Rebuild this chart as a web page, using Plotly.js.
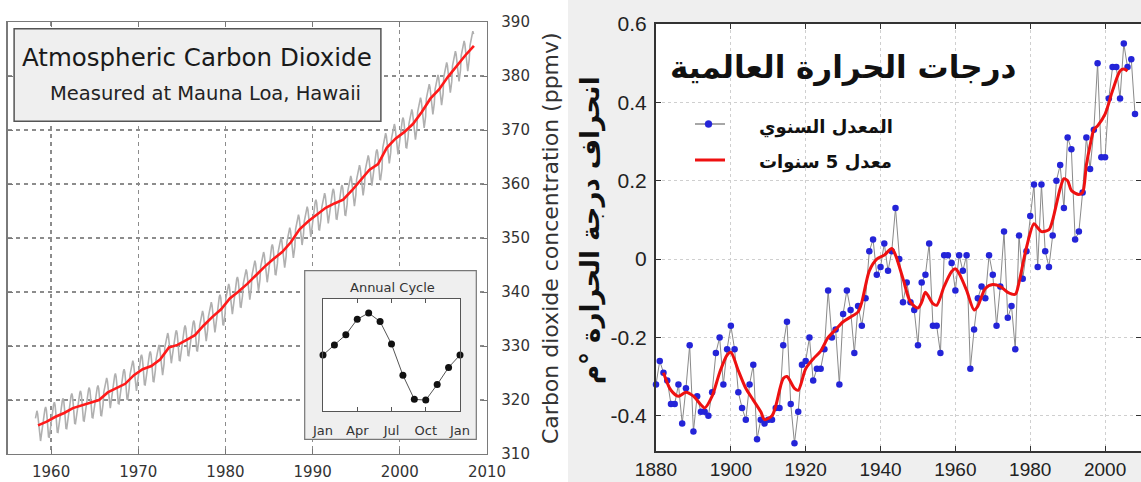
<!DOCTYPE html>
<html>
<head>
<meta charset="utf-8">
<script src="https://cdn.plot.ly/plotly-3.0.1.min.js"></script>
<style>
html,body{margin:0;padding:0;background:#ffffff;}
#chart{width:1141px;height:482px;}
</style>
</head>
<body>
<div id="chart"></div>
<script>
// ---------------- Left chart: Mauna Loa CO2 ----------------
const co2Years = [1958,1959,1960,1961,1962,1963,1964,1965,1966,1967,
                  1968,1969,1970,1971,1972,1973,1974,1975,1976,1977,
                  1978,1979,1980,1981,1982,1983,1984,1985,1986,1987,
                  1988,1989,1990,1991,1992,1993,1994,1995,1996,1997,
                  1998,1999,2000,2001,2002,2003,2004,2005,2006,2007,2008];
const co2Annual = [315.3,316.0,316.9,317.6,318.5,319.0,319.6,320.0,321.4,322.2,
                   323.0,324.6,325.7,326.3,327.5,329.7,330.2,331.1,332.0,333.8,
                   335.4,336.8,338.8,340.1,341.5,343.1,344.7,346.1,347.4,349.2,
                   351.6,353.1,354.4,355.6,356.4,357.1,358.8,360.8,362.6,363.7,
                   366.7,368.4,369.6,371.1,373.3,375.8,377.5,379.8,381.9,383.8,385.6];
const co2TickYears = [1960,1970,1980,1990,2000,2010];
const co2TickValues = [310,320,330,340,350,360,370,380,390];

// inset: annual cycle (Jan ... Dec, Jan)
const cycleMonths = [0,1,2,3,4,5,6,7,8,9,10,11,12];
const cycleValues = [0.0,0.65,1.3,2.3,2.7,2.15,0.7,-1.3,-2.85,-2.9,-1.9,-0.8,0.0];
const cycleTickVals = [0,3,6,9,12];
const cycleTickText = ['Jan','Apr','Jul','Oct','Jan'];

// ---------------- Right chart: global temperature ----------------
const tempStartYear = 1880;
const tempAnnual = [
  -0.32,-0.26,-0.29,-0.31,-0.37,-0.37,-0.32,-0.42,-0.33,-0.22,   // 1880s
  -0.44,-0.35,-0.39,-0.39,-0.40,-0.34,-0.24,-0.20,-0.32,-0.23,   // 1890s
  -0.17,-0.23,-0.34,-0.38,-0.41,-0.32,-0.27,-0.46,-0.41,-0.42,   // 1900s
  -0.41,-0.41,-0.38,-0.38,-0.22,-0.16,-0.37,-0.47,-0.39,-0.27,   // 1910s
  -0.26,-0.20,-0.31,-0.28,-0.28,-0.23,-0.08,-0.20,-0.18,-0.32,   // 1920s
  -0.14,-0.08,-0.13,-0.24,-0.12,-0.17,-0.10, 0.02, 0.05,-0.04,   // 1930s
  -0.02, 0.04,-0.03, 0.02, 0.13, 0.00,-0.11,-0.06,-0.11,-0.13,   // 1940s
  -0.22,-0.06,-0.04, 0.04,-0.17,-0.17,-0.24, 0.01, 0.01,-0.01,   // 1950s
  -0.08, 0.01,-0.03, 0.01,-0.28,-0.18,-0.10,-0.07,-0.10, 0.01,   // 1960s
  -0.04,-0.17,-0.07, 0.07,-0.15,-0.12,-0.23, 0.06,-0.05, 0.02,   // 1970s
   0.11, 0.19,-0.02, 0.19, 0.02,-0.02, 0.06, 0.20, 0.24, 0.13,   // 1980s
   0.31, 0.28, 0.05, 0.07, 0.17, 0.31, 0.23, 0.33, 0.50, 0.26,   // 1990s
   0.26, 0.41, 0.49, 0.49, 0.41, 0.55, 0.49, 0.51, 0.37          // 2000s
];
const tempYears = tempAnnual.map((v, i) => tempStartYear + i);

const smoothYears = [1882,1884,1886,1888,1890,1892,1893,1895,1897,1899,1900,1902,1904,1906,1908,1909,
                     1911,1912,1914,1915,1917,1918,1920,1922,1924,1926,1928,1930,1932,1934,1935,1937,
                     1939,1941,1943,1944,1946,1948,1950,1951,1952,1954,1955,1957,1959,1960,1961,1963,
                     1965,1966,1968,1970,1972,1974,1976,1977,1979,1981,1982,1983,1985,1986,1988,1989,
                     1990,1991,1993,1994,1995,1996,1997,1998,2000,2002,2004,2005,2006];
const smoothValues = [-0.29,-0.335,-0.35,-0.34,-0.35,-0.372,-0.38,-0.35,-0.29,-0.245,-0.238,-0.285,-0.33,-0.36,-0.39,-0.41,
                      -0.40,-0.375,-0.305,-0.30,-0.33,-0.335,-0.28,-0.255,-0.235,-0.20,-0.18,-0.16,-0.148,-0.135,-0.11,-0.03,
                      0.0,0.01,0.027,0.01,-0.05,-0.11,-0.125,-0.11,-0.085,-0.114,-0.118,-0.07,-0.032,-0.025,-0.037,-0.08,
                      -0.13,-0.12,-0.075,-0.065,-0.07,-0.085,-0.09,-0.06,0.03,0.09,0.08,0.07,0.075,0.10,0.18,0.205,
                      0.20,0.175,0.165,0.17,0.24,0.29,0.33,0.34,0.37,0.43,0.48,0.485,0.48];
const tempTickYears = [1880,1900,1920,1940,1960,1980,2000];
const tempTickVals = [-0.4,-0.2,0,0.2,0.4,0.6];
const tempTickText = ['-0.4','-0.2','0','0.2','0.4','0.6'];

// ---------- monthly CO2 (annual mean + seasonal cycle of the inset) ----------
const grayX = [], grayY = [];
co2Years.forEach((yr, i) => {
  for (let m = 0; m < 12; m++) {
    if (yr === co2Years[0] && m < 2) continue;
    if (yr === co2Years[co2Years.length - 1] && m > 5) continue;
    grayX.push(yr + (m + 0.5) / 12);
    grayY.push(co2Annual[i] + cycleValues[m]);
  }
});

const W = 1141, H = 482;
const px = v => v / W;
const py = v => 1 - v / H;

const traces = [
  {x: grayX, y: grayY, xaxis: 'x', yaxis: 'y', mode: 'lines',
   line: {color: '#b0b0b0', width: 1.6}, hoverinfo: 'skip'},
  {x: co2Years.map(y => y + 0.5), y: co2Annual, xaxis: 'x', yaxis: 'y', mode: 'lines',
   line: {color: '#ff1a1a', width: 2.6}},
  {x: [], y: [], xaxis: 'x2', yaxis: 'y2'},
  {x: cycleMonths, y: cycleValues, xaxis: 'x3', yaxis: 'y3', mode: 'lines+markers',
   line: {color: '#555555', width: 1}, marker: {color: '#111111', size: 7}, cliponaxis: false},
  {x: [], y: [], xaxis: 'x4', yaxis: 'y4'},
  {x: [], y: [], xaxis: 'x5', yaxis: 'y5'},
  {x: tempYears, y: tempAnnual, xaxis: 'x6', yaxis: 'y6', mode: 'lines+markers',
   line: {color: '#8a8a8a', width: 1}, marker: {color: '#2424d8', size: 6.5}, cliponaxis: false},
  {x: smoothYears, y: smoothValues, xaxis: 'x6', yaxis: 'y6', mode: 'lines',
   line: {color: '#ee1111', width: 3, shape: 'spline', smoothing: 0.8}}
];

const dummy = (dom, anchor) => ({domain: dom, range: [0, 1], visible: false, anchor: anchor, fixedrange: true});

const leftFont = {family: 'DejaVu Sans', size: 15, color: '#333333'};
const rightFont = {family: 'Liberation Sans, Arial', size: 19, color: '#222222'};

const layout = {
  width: W, height: H,
  margin: {l: 0, r: 0, t: 0, b: 0, pad: 0},
  paper_bgcolor: '#ffffff', plot_bgcolor: '#ffffff',
  showlegend: false,
  xaxis: {domain: [px(7.5), px(487)], range: [1955, 2010], anchor: 'y',
          tickvals: co2TickYears, ticks: 'inside', ticklen: 5, tickcolor: '#777',
          showline: true, linecolor: '#7a7a7a', linewidth: 1.3, mirror: 'ticks',
          showgrid: true, gridcolor: '#8c8c8c', griddash: '4px,4px', gridwidth: 1.2,
          zeroline: false, tickfont: leftFont, ticklabelstandoff: 4, fixedrange: true},
  yaxis: {domain: [py(454), py(22)], range: [310, 390], anchor: 'x', side: 'right',
          tickvals: co2TickValues, ticks: 'inside', ticklen: 5, tickcolor: '#777',
          showline: true, linecolor: '#7a7a7a', linewidth: 1.3, mirror: 'ticks',
          showgrid: true, gridcolor: '#8c8c8c', griddash: '4px,4px', gridwidth: 1.2,
          zeroline: false, tickfont: leftFont, ticklabelstandoff: 10, fixedrange: true},
  xaxis2: dummy([px(304), px(477)], 'y2'),
  yaxis2: dummy([py(440), py(270)], 'x2'),
  xaxis3: {domain: [px(323), px(460)], range: [0, 12], anchor: 'y3',
           tickvals: cycleTickVals, ticktext: cycleTickText, ticks: 'inside', ticklen: 4,
           tickcolor: '#555', showline: true, linecolor: '#555', linewidth: 1, mirror: 'ticks',
           showgrid: false, zeroline: false,
           tickfont: {family: 'DejaVu Sans', size: 13, color: '#333'}, ticklabelstandoff: 7, fixedrange: true},
  yaxis3: {domain: [py(411), py(299)], range: [-3.6, 3.6], anchor: 'x3',
           showticklabels: false, ticks: '', showline: true, linecolor: '#555', linewidth: 1,
           mirror: true, showgrid: false, zeroline: false, fixedrange: true},
  xaxis4: dummy([px(13), px(382)], 'y4'),
  yaxis4: dummy([py(122), py(28)], 'x4'),
  xaxis5: dummy([px(568), 1], 'y5'),
  yaxis5: dummy([0, 1], 'x5'),
  xaxis6: {domain: [px(656), 1], range: [1880, 2009.6], anchor: 'y6',
           tickvals: tempTickYears, ticks: 'inside', ticklen: 5, tickcolor: '#333',
           showline: true, linecolor: '#333', linewidth: 2, mirror: 'ticks',
           showgrid: true, gridcolor: '#cfcfcf', griddash: 'dot', gridwidth: 1,
           zeroline: false, tickfont: rightFont, ticklabelstandoff: 0, fixedrange: true},
  yaxis6: {domain: [py(451), py(24)], range: [-0.49, 0.6], anchor: 'x6',
           tickvals: tempTickVals, ticktext: tempTickText, ticks: 'inside', ticklen: 5, tickcolor: '#333',
           showline: true, linecolor: '#333', linewidth: 2, mirror: 'ticks',
           showgrid: true, gridcolor: '#cfcfcf', griddash: 'dot', gridwidth: 1,
           zeroline: false, tickfont: {family: 'Liberation Sans, Arial', size: 21, color: '#222222'},
           ticklabelstandoff: 3, fixedrange: true},
  shapes: [
    {type: 'rect', xref: 'x2', yref: 'y2', x0: 0.004, x1: 0.996, y0: 0.004, y1: 0.996, layer: 'below',
     fillcolor: '#efefef', line: {color: '#777', width: 1.2}},
    {type: 'rect', xref: 'x4', yref: 'y4', x0: 0.003, x1: 0.997, y0: 0.008, y1: 0.992, layer: 'below',
     fillcolor: '#efefef', line: {color: '#555', width: 1.5}},
    {type: 'rect', xref: 'x5', yref: 'y5', x0: 0, x1: 1, y0: 0, y1: 1, layer: 'below',
     fillcolor: '#efefef', line: {width: 0}},
    // legend samples
    {type: 'line', xref: 'paper', yref: 'paper', x0: px(695), x1: px(725), y0: py(124), y1: py(124),
     layer: 'above', line: {color: '#8a8a8a', width: 1.5}},
    {type: 'circle', xref: 'paper', yref: 'paper', x0: px(705), x1: px(712), y0: py(127.5), y1: py(120.5),
     layer: 'above', fillcolor: '#2424d8', line: {color: '#2424d8', width: 0.5}},
    {type: 'line', xref: 'paper', yref: 'paper', x0: px(695), x1: px(725), y0: py(160), y1: py(160),
     layer: 'above', line: {color: '#ee1111', width: 3}}
  ],
  annotations: [
    {text: 'Atmospheric Carbon Dioxide', xref: 'paper', yref: 'paper', x: px(197), y: py(57),
     xanchor: 'center', yanchor: 'middle', showarrow: false,
     font: {family: 'DejaVu Sans', size: 24.5, color: '#1a1a1a'}},
    {text: 'Measured at Mauna Loa, Hawaii', xref: 'paper', yref: 'paper', x: px(205), y: py(94),
     xanchor: 'center', yanchor: 'middle', showarrow: false,
     font: {family: 'DejaVu Sans', size: 19.5, color: '#222'}},
    {text: 'Annual Cycle', xref: 'paper', yref: 'paper', x: px(392), y: py(287),
     xanchor: 'center', yanchor: 'middle', showarrow: false,
     font: {family: 'DejaVu Sans', size: 13, color: '#333'}},
    {text: 'Carbon dioxide concentration (ppmv)', xref: 'paper', yref: 'paper', x: px(550), y: py(238),
     xanchor: 'center', yanchor: 'middle', showarrow: false, textangle: -90,
     font: {family: 'DejaVu Sans', size: 22, color: '#333'}},
    {text: 'درجات الحرارة العالمية', xref: 'paper', yref: 'paper', x: px(843), y: py(68),
     xanchor: 'center', yanchor: 'middle', showarrow: false,
     font: {family: 'DejaVu Sans', size: 31, color: '#111', weight: 'bold'}},
    {text: 'المعدل السنوي', xref: 'paper', yref: 'paper', x: px(826), y: py(127),
     xanchor: 'center', yanchor: 'middle', showarrow: false,
     font: {family: 'DejaVu Sans', size: 18, color: '#111', weight: 'bold'}},
    {text: 'معدل 5 سنوات', xref: 'paper', yref: 'paper', x: px(825), y: py(162),
     xanchor: 'center', yanchor: 'middle', showarrow: false,
     font: {family: 'DejaVu Sans', size: 18, color: '#111', weight: 'bold'}},
    {text: 'انحراف درجة الحرارة °م', xref: 'paper', yref: 'paper', x: px(590), y: py(230),
     xanchor: 'center', yanchor: 'middle', showarrow: false, textangle: -90,
     font: {family: 'DejaVu Sans', size: 26, color: '#111', weight: 'bold'}}
  ]
};

Plotly.newPlot('chart', traces, layout, {staticPlot: true, displayModeBar: false});
</script>
</body>
</html>
